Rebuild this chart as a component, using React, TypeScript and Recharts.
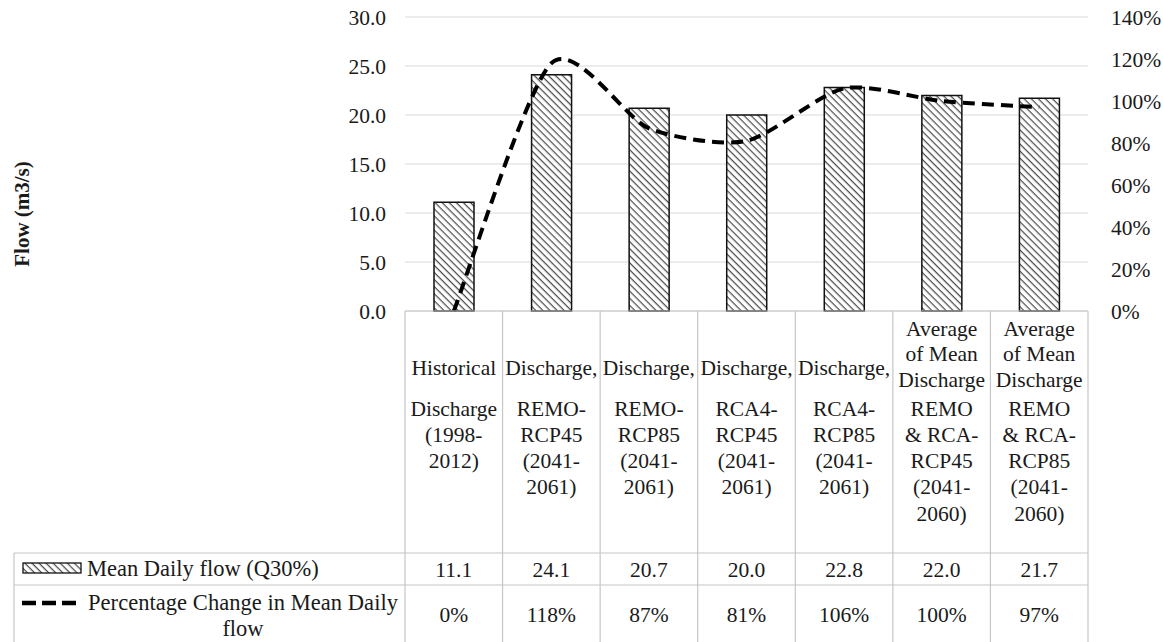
import React from "react";
import {
  ComposedChart,
  Bar,
  Line,
  XAxis,
  YAxis,
  CartesianGrid,
} from "recharts";

const categories = [
  "Historical Discharge (1998-2012)",
  "Discharge, REMO-RCP45 (2041-2061)",
  "Discharge, REMO-RCP85 (2041-2061)",
  "Discharge, RCA4-RCP45 (2041-2061)",
  "Discharge, RCA4-RCP85 (2041-2061)",
  "Average of Mean Discharge REMO & RCA-RCP45 (2041-2060)",
  "Average of Mean Discharge REMO & RCA-RCP85 (2041-2060)",
];

// wrapped the way the data table shows them: [first paragraph, second paragraph]
const categoryLines: string[][][] = [
  [["Historical"], ["Discharge", "(1998-", "2012)"]],
  [["Discharge,"], ["REMO-", "RCP45", "(2041-", "2061)"]],
  [["Discharge,"], ["REMO-", "RCP85", "(2041-", "2061)"]],
  [["Discharge,"], ["RCA4-", "RCP45", "(2041-", "2061)"]],
  [["Discharge,"], ["RCA4-", "RCP85", "(2041-", "2061)"]],
  [["Average", "of Mean", "Discharge"], ["REMO", "& RCA-", "RCP45", "(2041-", "2060)"]],
  [["Average", "of Mean", "Discharge"], ["REMO", "& RCA-", "RCP85", "(2041-", "2060)"]],
];

const meanDailyFlow = [11.1, 24.1, 20.7, 20.0, 22.8, 22.0, 21.7];
const pctChange = [0, 1.18, 0.87, 0.81, 1.06, 1.0, 0.97];

const flowTicks = [0, 5, 10, 15, 20, 25, 30];
const pctTicks = [0, 0.2, 0.4, 0.6, 0.8, 1.0, 1.2, 1.4];

const legendLines = [["Mean Daily flow (Q30%)"], ["Percentage Change in Mean Daily", "flow"]];
const yAxisTitle = "Flow (m3/s)";

const data = categories.map((name, i) => ({
  name,
  flow: meanDailyFlow[i],
  pct: pctChange[i],
}));

const W = 1163;
const H = 642;
const LEFT_AXIS_W = 80;
const RIGHT_AXIS_W = 70;
const MARGIN = { top: 17, right: 5, left: 325, bottom: 90 };
const X_AXIS_H = 241;
const PLOT_LEFT = MARGIN.left + LEFT_AXIS_W;
const PLOT_RIGHT = W - MARGIN.right - RIGHT_AXIS_W;
const COL_W = (PLOT_RIGHT - PLOT_LEFT) / categories.length;

const FONT = '"Liberation Serif", "Times New Roman", serif';
const TEXT = "#1a1a1a";
const TABLE_LINE = "#c6c6c6";
const FS = 21.5;

// smoothed line close to Excel's (catmull-rom style bezier, softer tension)
const TENSION = 1 / 8;
const excelSmooth = (context: any) => {
  let pts: [number, number][] = [];
  return {
    areaStart() {},
    areaEnd() {},
    lineStart() {
      pts = [];
    },
    lineEnd() {
      if (!pts.length) return;
      context.moveTo(pts[0][0], pts[0][1]);
      for (let i = 0; i < pts.length - 1; i++) {
        const p0 = pts[Math.max(0, i - 1)];
        const p1 = pts[i];
        const p2 = pts[i + 1];
        const p3 = pts[Math.min(pts.length - 1, i + 2)];
        context.bezierCurveTo(
          p1[0] + (p2[0] - p0[0]) * TENSION,
          p1[1] + (p2[1] - p0[1]) * TENSION,
          p2[0] - (p3[0] - p1[0]) * TENSION,
          p2[1] - (p3[1] - p1[1]) * TENSION,
          p2[0],
          p2[1]
        );
      }
    },
    point(x: number, y: number) {
      pts.push([+x, +y]);
    },
  };
};

const TableTick = (props: any) => {
  const { x, y, index } = props;
  const [p1, p2] = categoryLines[index];
  const lh = 26.3;
  const gap = p1.length === 1 ? 41 : 29;
  const p2Start = y + 97;
  const p1End = p2Start - gap;
  const ys: number[] = [];
  p1.forEach((_, i) => ys.push(p1End - (p1.length - 1 - i) * 25.5));
  p2.forEach((_, i) => ys.push(p2Start + i * lh));
  const lines = [...p1, ...p2];

  const rowY1 = 553;
  const rowY2 = 585;
  const bottom = H;

  return (
    <g fontFamily={FONT} fontSize={FS} fill={TEXT}>
      {lines.map((l, i) => (
        <text key={i} x={x} y={ys[i]} dy="0.35em" textAnchor="middle" fill={TEXT}>
          {l}
        </text>
      ))}
      <line x1={x + COL_W / 2} x2={x + COL_W / 2} y1={y} y2={bottom} stroke={TABLE_LINE} strokeWidth={1.2} />
      {index === 0 && (
        <line x1={x - COL_W / 2} x2={x - COL_W / 2} y1={y} y2={bottom} stroke={TABLE_LINE} strokeWidth={1.2} />
      )}
      <text x={x} y={569} dy="0.35em" textAnchor="middle" fill={TEXT}>
        {meanDailyFlow[index].toFixed(1)}
      </text>
      <text x={x} y={614} dy="0.35em" textAnchor="middle" fill={TEXT}>
        {`${Math.round(pctChange[index] * 100)}%`}
      </text>
      {index === 0 && (
        <g>
          <line x1={14} x2={PLOT_RIGHT} y1={rowY1} y2={rowY1} stroke={TABLE_LINE} strokeWidth={1.2} />
          <line x1={14} x2={PLOT_RIGHT} y1={rowY2} y2={rowY2} stroke={TABLE_LINE} strokeWidth={1.2} />
          <line x1={14} x2={14} y1={rowY1} y2={bottom} stroke={TABLE_LINE} strokeWidth={1.2} />
          <rect x={23} y={563} width={58} height={10} fill="url(#hatch)" stroke="#111" strokeWidth={1.3} />
          <text x={87} y={568} dy="0.35em" textAnchor="start" fill={TEXT} fontSize={22.5}>
            {legendLines[0][0]}
          </text>
          <line x1={22} x2={78} y1={603} y2={603} stroke="#000" strokeWidth={4.5} strokeDasharray="14 6" />
          <text x={88} y={602} dy="0.35em" textAnchor="start" fill={TEXT} fontSize={22.5} textLength={310}>
            {legendLines[1][0]}
          </text>
          <text x={243} y={628} dy="0.35em" textAnchor="middle" fill={TEXT} fontSize={22.5}>
            {legendLines[1][1]}
          </text>
        </g>
      )}
    </g>
  );
};

const App: React.FC = () => {
  return (
    <div style={{ position: "absolute", left: 0, top: 0, width: W, height: H, background: "#fff" }}>
      <ComposedChart width={W} height={H} data={data} margin={MARGIN}>
        <defs>
          <pattern id="hatch" width="5" height="5" patternUnits="userSpaceOnUse" patternTransform="rotate(45)">
            <rect width="5" height="5" fill="#fff" />
            <line x1="0" y1="0" x2="5" y2="0" stroke="#4d4d4d" strokeWidth={2.5} />
          </pattern>
        </defs>
        <CartesianGrid yAxisId="left" vertical={false} stroke="#d9d9d9" strokeWidth={1.2} />
        <XAxis
          dataKey="name"
          height={X_AXIS_H}
          interval={0}
          tickLine={false}
          tickSize={0}
          tickMargin={0}
          axisLine={{ stroke: TABLE_LINE, strokeWidth: 1.2 }}
          tick={<TableTick />}
        />
        <YAxis
          yAxisId="left"
          width={LEFT_AXIS_W}
          domain={[0, 30]}
          ticks={flowTicks}
          axisLine={false}
          tickLine={false}
          tickSize={0}
          tickMargin={19}
          tick={{ fill: TEXT, fontSize: FS, fontFamily: FONT }}
          tickFormatter={(v: number) => v.toFixed(1)}
          label={{
            content: () => (
              <text
                x={22}
                y={214}
                transform="rotate(-90 22 214)"
                textAnchor="middle"
                dominantBaseline="central"
                fontFamily={FONT}
                fontWeight="bold"
                fontSize={21}
                fill={TEXT}
              >
                {yAxisTitle}
              </text>
            ),
          }}
        />
        <YAxis
          yAxisId="right"
          orientation="right"
          width={RIGHT_AXIS_W}
          domain={[0, 1.4]}
          ticks={pctTicks}
          axisLine={false}
          tickLine={false}
          tickSize={0}
          tickMargin={23}
          tick={{ fill: TEXT, fontSize: FS, fontFamily: FONT, textAnchor: "start" }}
          tickFormatter={(v: number) => `${Math.round(v * 100)}%`}
        />
        <Bar
          yAxisId="left"
          dataKey="flow"
          barSize={40}
          fill="url(#hatch)"
          stroke="#111"
          strokeWidth={1.5}
          isAnimationActive={false}
        />
        <Line
          yAxisId="right"
          type={excelSmooth as any}
          dataKey="pct"
          stroke="#000"
          strokeWidth={4}
          strokeDasharray="12 7"
          dot={false}
          activeDot={false}
          isAnimationActive={false}
        />
      </ComposedChart>
    </div>
  );
};

export default App;
